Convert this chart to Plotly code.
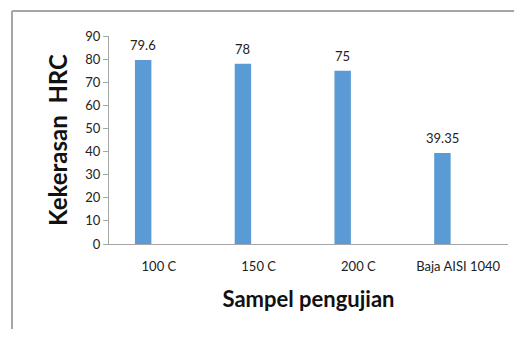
import plotly.graph_objects as go

categories = ["100 C", "150 C", "200 C", "Baja AISI 1040"]
hardness = [79.6, 78, 75, 39.35]
labels = ["79.6", "78", "75", "39.35"]
y_ticks = [0, 10, 20, 30, 40, 50, 60, 70, 80, 90]

# page body has an 8px margin; figure coords = window coords - 8
W, H = 506, 321
L, R, T, B = 101, 6, 28, 85
pw, ph = W - L - R, H - T - B

BAR_W, BAR_OFF = 0.165, -0.24
font = "Lato, Carlito, sans-serif"

fig = go.Figure()
fig.add_trace(go.Bar(
    x=categories, y=hardness,
    marker=dict(color="#5b9bd5", line=dict(width=0)),
    width=BAR_W, offset=BAR_OFF, cliponaxis=False,
))

shift_px = (BAR_OFF + BAR_W / 2) * pw / 4
for c, v, t in zip(categories, hardness, labels):
    fig.add_annotation(x=c, y=v, text=t, showarrow=False, xshift=shift_px, yshift=15,
                       font=dict(family=font, size=13, color="#222"))

fig.update_layout(
    width=W, height=H,
    margin=dict(l=L, r=R, t=T, b=B, autoexpand=False),
    plot_bgcolor="white", paper_bgcolor="white",
    showlegend=False,
    xaxis=dict(
        automargin=False,
        showline=True, linecolor="#a6a6a6", linewidth=1.3,
        showgrid=False, ticks="", ticklabelstandoff=10,
        tickfont=dict(family=font, size=13, color="#222"),
        title=dict(text="<b>Sampel pengujian</b>", font=dict(family=font, size=22, color="#111"), standoff=18),
        range=[-0.5, 3.5],
    ),
    yaxis=dict(
        automargin=False,
        range=[0, 90], tickvals=y_ticks, showline=True, linecolor="#a6a6a6", linewidth=1.3,
        showgrid=False, ticks="outside", ticklen=5, tickcolor="#a6a6a6",
        tickfont=dict(family=font, size=13, color="#222"),
        title=dict(text="<b>Kekerasan  HRC</b>", font=dict(family=font, size=24, color="#111"), standoff=10),
    ),
)

# outer chart border (left and top edges)
x0 = (4 - L) / pw
x1 = (W - L) / pw
y_top = 1 + (T - 3) / ph
y_bot = -B / ph
fig.add_shape(type="line", xref="paper", yref="paper", x0=x0, x1=x0, y0=y_bot, y1=y_top,
              line=dict(color="#a6a6a6", width=2), layer="below")
fig.add_shape(type="line", xref="paper", yref="paper", x0=x0, x1=x1, y0=y_top, y1=y_top,
              line=dict(color="#a6a6a6", width=2), layer="below")

fig.write_html("out.html")
